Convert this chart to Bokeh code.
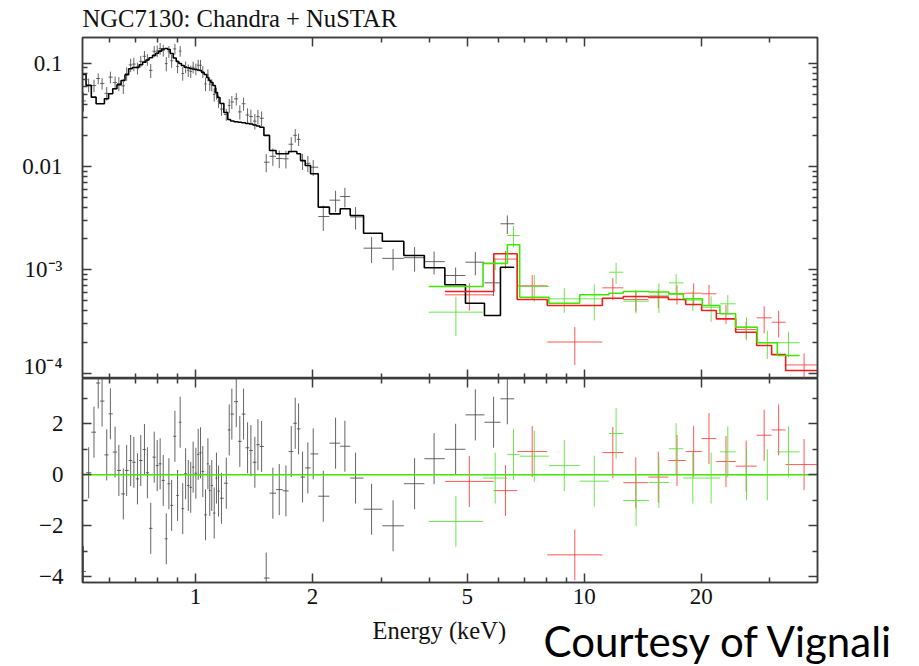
import math

from bokeh.core.properties import value
from bokeh.embed import file_html
from bokeh.layouts import column
from bokeh.models import ColumnDataSource, FixedTicker, LinearAxis, Range1d
from bokeh.plotting import figure
from bokeh.resources import INLINE

# ---------------------------------------------------------------- data
# Chandra ACIS: bin centres (keV), unfolded counts, 1-sigma errors,
# folded model per bin and residuals in sigma units
acis_e = [0.515, 0.531, 0.548, 0.562, 0.575, 0.591, 0.604, 0.621, 0.635, 0.652,
          0.665, 0.681, 0.694, 0.709, 0.723, 0.739, 0.752, 0.767, 0.783, 0.797,
          0.811, 0.826, 0.841, 0.854, 0.868, 0.885, 0.899, 0.913, 0.927, 0.943,
          0.958, 0.972, 0.986, 1.002, 1.016, 1.030, 1.044, 1.061, 1.076, 1.088,
          1.101, 1.117, 1.132, 1.146, 1.166, 1.200, 1.221, 1.240, 1.273, 1.300,
          1.329, 1.361, 1.388, 1.421, 1.447, 1.479, 1.520, 1.581, 1.642, 1.708,
          1.763, 1.805, 1.841, 1.885, 1.945, 2.008, 2.131, 2.292, 2.422, 2.580,
          2.837, 3.222, 3.660, 4.108, 4.667, 5.245, 5.843, 6.339]
acis_flux = [0.0431, 0.0617, 0.0608, 0.0710, 0.0635, 0.0511, 0.0733, 0.0649, 0.0635, 0.0604,
             0.0793, 0.0963, 0.0980, 0.0895, 0.1041, 0.1166, 0.1083, 0.0852, 0.1303, 0.1312,
             0.1388, 0.1333, 0.0991, 0.1295, 0.1057, 0.1375, 0.0931, 0.1310, 0.0795, 0.0919,
             0.0854, 0.0833, 0.0915, 0.0877, 0.0956, 0.0954, 0.0827, 0.0630, 0.0770, 0.0626,
             0.0615, 0.0498, 0.0511, 0.0428, 0.0360, 0.0319, 0.0390, 0.0421, 0.0452, 0.0338,
             0.0405, 0.0315, 0.0305, 0.0275, 0.0304, 0.0293, 0.0110, 0.01255, 0.01195, 0.01188,
             0.01643, 0.02005, 0.01830, 0.01125, 0.01074, 0.00984, 0.00328, 0.00472, 0.00512, 0.00325,
             0.00162, 0.00129, 0.00131, 0.00120, 0.000881, 0.001185, 0.000748, 0.00279]
acis_err = [0.0091, 0.0093, 0.0083, 0.0085, 0.0080, 0.0077, 0.0095, 0.0094, 0.0098, 0.0101,
            0.0118, 0.0143, 0.0145, 0.0117, 0.0135, 0.0145, 0.0140, 0.0132, 0.0163, 0.0170,
            0.0180, 0.0175, 0.0158, 0.0170, 0.0153, 0.0167, 0.0133, 0.0154, 0.0117, 0.0120,
            0.0117, 0.0114, 0.0119, 0.0114, 0.0121, 0.0121, 0.0108, 0.0094, 0.0100, 0.0087,
            0.0083, 0.0073, 0.0067, 0.0059, 0.0051, 0.0042, 0.0060, 0.0061, 0.0063, 0.0053,
            0.0059, 0.0051, 0.0050, 0.0047, 0.0049, 0.0048, 0.0022, 0.0024, 0.0023, 0.0023,
            0.0028, 0.0030, 0.0025, 0.0020, 0.0019, 0.0017, 0.0009, 0.0011, 0.0011, 0.0008,
            0.00046, 0.00030, 0.00035, 0.00030, 0.00017, 0.00030, 0.00019, 0.00057]
acis_model = [0.0777, 0.0608, 0.0469, 0.0405, 0.0405, 0.0452, 0.0506, 0.0565, 0.0618, 0.0680,
              0.0772, 0.0883, 0.0909, 0.0915, 0.0965, 0.1023, 0.1072, 0.1128, 0.1190, 0.1250,
              0.1310, 0.1372, 0.1388, 0.1357, 0.1241, 0.1123, 0.1039, 0.0993, 0.0950, 0.0915,
              0.0903, 0.0889, 0.0879, 0.0869, 0.0859, 0.0850, 0.0813, 0.0777, 0.0727, 0.0680,
              0.0650, 0.0608, 0.0520, 0.0466, 0.0407, 0.0333, 0.0285, 0.0276, 0.0271, 0.0268,
              0.0265, 0.0261, 0.0258, 0.0252, 0.0247, 0.0240, 0.0200, 0.01429, 0.01327, 0.01327,
              0.01397, 0.01397, 0.01327, 0.01143, 0.01023, 0.00850, 0.00404, 0.00348, 0.00390, 0.00335,
              0.00226, 0.00189, 0.001375, 0.001046, 0.000716, 0.000475, 0.000361, 0.00106]
acis_resid = [-3.79, 0.08, 1.67, 3.6, 2.89, 0.78, 2.39, 0.89, 0.17, -0.75,
              0.17, 0.56, 0.49, -0.16, 0.56, 0.99, 0.08, -2.1, 0.69, 0.36,
              0.43, -0.22, -2.51, -0.35, -1.2, 1.51, -0.81, 2.06, -1.33, 0.04,
              -0.42, -0.49, 0.3, 0.06, 0.8, 0.86, 0.13, -1.57, 0.43, -0.62,
              -0.42, -1.5, -0.13, -0.64, -0.92, -0.33, 1.76, 2.38, 2.87, 1.31,
              2.38, 1.06, 0.95, 0.49, 1.18, 1.11, -4.05, -0.72, -0.58, -0.63,
              0.91, 2.02, 1.8, -0.09, 0.27, 0.82, -0.84, 1.24, 1.12, -0.13,
              -1.35, -2.0, -0.35, 0.63, 1.0, 2.35, 2.06, 2.98]

# NuSTAR FPMA: channel group edges (keV), data, errors, model, residuals
fpma_edges = [4.38, 5.85, 6.72, 8.03, 11.13, 12.60, 14.61, 16.45, 18.23,
              20.04, 21.86, 24.51, 27.76, 30.33, 32.96, 41.0]
fpma_flux = [0.000572, 0.00127, 0.000700, 0.000200, 0.000669, 0.000515, 0.000535, 0.000586,
             0.000594, 0.000586, 0.000378, 0.000265, 0.000343, 0.000311, 0.000120]
fpma_err = [0.00017, 0.00025, 0.00019, 0.00008, 0.00016, 0.00012, 0.00011, 0.000125,
            0.000146, 0.000128, 0.00008, 0.00005, 0.00010, 0.00009, 0.000035]
fpma_model = [0.000616, 0.001429, 0.000516, 0.000451, 0.000531, 0.000551, 0.000545, 0.000516,
              0.000461, 0.000404, 0.000335, 0.000249, 0.000185, 0.000151, 0.000106]
fpma_resid = [-0.26, -0.62, 0.91, -3.14, 0.87, -0.31, -0.09, 0.56,
              0.91, 1.42, 0.52, 0.34, 1.55, 1.76, 0.40]

# NuSTAR FPMB
fpmb_edges = [3.98, 5.49, 6.34, 6.82, 8.11, 9.73, 11.57, 12.60, 14.66,
              16.51, 17.98, 20.12, 22.33, 24.51, 27.87, 31.37, 35.81]
fpmb_flux = [0.000389, 0.001143, 0.002148, 0.000689, 0.000524, 0.000524, 0.000948, 0.000497,
             0.000561, 0.000748, 0.000510, 0.000434, 0.000469, 0.000278, 0.000197, 0.000197]
fpmb_err = [0.00016, 0.00015, 0.0005, 0.0002, 0.00014, 0.0002, 0.00022, 0.00012,
            0.00018, 0.00016, 0.00011, 0.00012, 0.0001, 0.00007, 0.00006, 0.000055]
fpmb_model = [0.000689, 0.001159, 0.001746, 0.000543, 0.000475, 0.000573, 0.000594, 0.000616,
              0.000610, 0.000585, 0.000524, 0.000451, 0.000375, 0.000278, 0.000197, 0.000148]
fpmb_resid = [-1.83, -0.13, 0.8, 0.73, 0.36, -0.25, 1.62, -1.01,
              -0.30, 1.02, -0.13, -0.13, 0.9, 0.0, 0.0, 0.9]

# axis ticks
x_major = [1, 2, 5, 10, 20]
x_minor = [0.6, 0.7, 0.8, 0.9, 3, 4, 6, 7, 8, 9, 30, 40]
x_labels = {1: "1", 2: "2", 5: "5", 10: "10", 20: "20"}
flux_major = [1e-4, 1e-3, 1e-2, 1e-1]
flux_minor = [m * d for d in (1e-4, 1e-3, 1e-2) for m in range(2, 10)]
flux_labels = {1e-4: "10\u207b\u2074", 1e-3: "10\u207b\u00b3", 1e-2: "0.01", 1e-1: "0.1"}
res_major = [-4, -2, 0, 2]
res_minor = [-3, -1, 1, 3]
res_labels = {-4: "\u22124", -2: "\u22122", 0: "0", 2: "2"}

TITLE = "NGC7130: Chandra + NuSTAR"
XLABEL = "Energy (keV)"
CREDIT = "Courtesy of Vignali"

# ---------------------------------------------------------------- styling
FRAME = "#3c3c3c"
SERIF = "Liberation Serif"
INK = "#111111"
BLACK_DATA = "#4a4a4a"
RED_DATA = "#ff3b3b"
GREEN_DATA = "#55e030"
BLACK_MODEL = "#000000"
RED_MODEL = "#ee1c1c"
GREEN_MODEL = "#3ee800"
WIN_W, WIN_H = 919, 666


def centre_edges(centres):
    """Bin edges halfway (in log E) between neighbouring channel centres."""
    mids = [math.sqrt(a * b) for a, b in zip(centres[:-1], centres[1:])]
    first = centres[0] ** 2 / mids[0]
    last = centres[-1] ** 2 / mids[-1]
    return [first] + mids + [last]


def step_path(edges, values):
    xs, ys = [], []
    for i, v in enumerate(values):
        xs += [edges[i], edges[i + 1]]
        ys += [v, v]
    return xs, ys


def cross_source(edges, centres, vals, errs):
    return ColumnDataSource(dict(
        e=centres, lo=edges[:-1], hi=edges[1:], v=vals,
        vlo=[v - s for v, s in zip(vals, errs)],
        vhi=[v + s for v, s in zip(vals, errs)],
    ))


def geo_centres(edges):
    return [math.sqrt(a * b) for a, b in zip(edges[:-1], edges[1:])]


def tick_axis(ticks, minor, labels=None, size="23px", standoff=6):
    ax = LinearAxis(ticker=FixedTicker(ticks=ticks, minor_ticks=minor))
    ax.major_tick_in = 9
    ax.major_tick_out = 0
    ax.minor_tick_in = 5
    ax.minor_tick_out = 0
    for prop in ("axis_line", "major_tick_line", "minor_tick_line"):
        setattr(ax, prop + "_color", FRAME)
        setattr(ax, prop + "_width", 1.5)
    if labels:
        ax.major_label_overrides = labels
        ax.major_label_text_font = SERIF
        ax.major_label_text_font_size = size
        ax.major_label_text_color = INK
        ax.major_label_standoff = standoff
    else:
        # tick marks only: labels are switched off entirely
        ax.major_label_text_color = None
        ax.major_label_text_font_size = "0px"
        ax.major_label_standoff = 0
    return ax


def draw_crosses(fig, src, col):
    fig.segment(x0="e", y0="vlo", x1="e", y1="vhi", source=src,
                line_color=col, line_width=1, line_alpha=0.85)
    fig.segment(x0="lo", y0="v", x1="hi", y1="v", source=src,
                line_color=col, line_width=1, line_alpha=0.85)


acis_edges = centre_edges(acis_e)
fpma_e = geo_centres(fpma_edges)
fpmb_e = geo_centres(fpmb_edges)

x_range = Range1d(0.512, 39.8)

# ---------------------------------------------------------------- spectrum panel
top = figure(width=WIN_W, height=378, x_axis_type="log", y_axis_type="log",
             x_range=x_range, y_range=Range1d(8.87e-5, 0.1773),
             x_axis_location=None, y_axis_location=None,
             toolbar_location=None, output_backend="svg",
             min_border_left=82, min_border_right=102,
             min_border_top=37, min_border_bottom=0)

draw_crosses(top, cross_source(acis_edges, acis_e, acis_flux, acis_err), BLACK_DATA)
draw_crosses(top, cross_source(fpma_edges, fpma_e, fpma_flux, fpma_err), RED_DATA)
draw_crosses(top, cross_source(fpmb_edges, fpmb_e, fpmb_flux, fpmb_err), GREEN_DATA)

for edges, model, col in ((acis_edges, acis_model, BLACK_MODEL),
                          (fpma_edges, fpma_model, RED_MODEL),
                          (fpmb_edges, fpmb_model, GREEN_MODEL)):
    xs, ys = step_path(edges, model)
    top.line(xs, ys, line_color=col, line_width=1.6)

top.add_layout(tick_axis(flux_major, flux_minor, flux_labels, standoff=20), "left")
top.add_layout(tick_axis(flux_major, flux_minor), "right")
top.add_layout(tick_axis(x_major, x_minor), "above")
top.add_layout(tick_axis(x_major, x_minor), "below")

# ---------------------------------------------------------------- residual panel
bot = figure(width=WIN_W, height=288, x_axis_type="log",
             x_range=x_range, y_range=Range1d(-4.224, 3.776),
             x_axis_location=None, y_axis_location=None,
             toolbar_location=None, output_backend="svg",
             min_border_left=82, min_border_right=102,
             min_border_top=0, min_border_bottom=84)

draw_crosses(bot, cross_source(acis_edges, acis_e, acis_resid, [1.0] * len(acis_e)), BLACK_DATA)
draw_crosses(bot, cross_source(fpma_edges, fpma_e, fpma_resid, [1.0] * len(fpma_e)), RED_DATA)
draw_crosses(bot, cross_source(fpmb_edges, fpmb_e, fpmb_resid, [1.0] * len(fpmb_e)), GREEN_DATA)

bot.line([0.512, 39.8], [0, 0], line_color=GREEN_MODEL, line_width=1.6)

bot.add_layout(tick_axis(res_major, res_minor, res_labels, standoff=19), "left")
bot.add_layout(tick_axis(res_major, res_minor), "right")
bot.add_layout(tick_axis(x_major, x_minor), "above")
bot.add_layout(tick_axis(x_major, x_minor, x_labels, standoff=6), "below")

for fig in (top, bot):
    fig.xgrid.visible = False
    fig.ygrid.visible = False
    fig.outline_line_color = FRAME
    fig.outline_line_width = 1.5
    fig.background_fill_color = "white"
    fig.border_fill_color = "white"

# ---------------------------------------------------------------- text layer
# A transparent sheet over the whole page, in pixel units (y grows downward),
# carrying the title, the energy label and the credit line; each text is
# placed by the middle of its line box.
sheet = figure(width=WIN_W, height=WIN_H, x_range=Range1d(0, WIN_W),
               y_range=Range1d(WIN_H, 0), title=None,
               x_axis_location=None, y_axis_location=None,
               toolbar_location=None, output_backend="svg", min_border=0,
               styles={"position": "absolute", "left": "0px", "top": "0px",
                       "pointer-events": "none"})
sheet.text(x=[82], y=[17.5], text=[TITLE], text_font=value(SERIF),
           text_font_size=value("24.6px"), text_color=INK,
           text_baseline="middle", text_align="left")
sheet.text(x=[372], y=[629.5], text=[XLABEL], text_font=value(SERIF),
           text_font_size=value("24.5px"), text_color=INK,
           text_baseline="middle", text_align="left")
sheet.text(x=[543], y=[640], text=[CREDIT], text_font=value("Lato"),
           text_font_size=value("42px"), text_color="#000000",
           text_baseline="middle", text_align="left")
sheet.outline_line_color = None
sheet.background_fill_alpha = 0
sheet.border_fill_alpha = 0
sheet.xgrid.visible = False
sheet.ygrid.visible = False

layout = column(top, bot, spacing=0)

with open("out.html", "w") as fh:
    fh.write(file_html([layout, sheet], INLINE))
